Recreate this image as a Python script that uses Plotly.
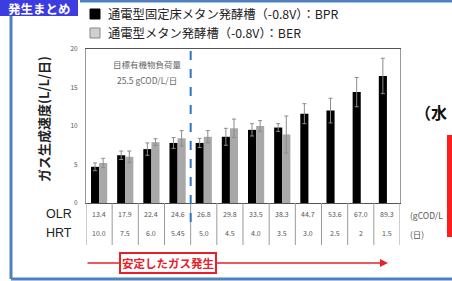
import plotly.graph_objects as go

# ---- data ----
olr = ["13.4", "17.9", "22.4", "24.6", "26.8", "29.8", "33.5", "38.3", "44.7", "53.6", "67.0", "89.3"]
hrt = ["10.0", "7.5", "6.0", "5.45", "5.0", "4.5", "4.0", "3.5", "3.0", "2.5", "2", "1.5"]
bpr = [4.7, 6.2, 7.0, 7.8, 7.8, 8.6, 9.5, 9.8, 11.6, 12.0, 14.4, 16.5]
bpr_err = [0.5, 0.55, 0.8, 0.7, 0.6, 1.1, 0.8, 0.5, 1.3, 1.6, 1.9, 2.3]
ber = [5.2, 6.0, 7.9, 8.4, 8.6, 9.7, 10.0, 8.9, None, None, None, None]
ber_err = [0.6, 0.75, 0.45, 1.0, 0.8, 1.2, 0.7, 2.4, 0, 0, 0, 0]
name_bpr = "通電型固定床メタン発酵槽（-0.8V）：BPR"
name_ber = "通電型メタン発酵槽（-0.8V）：BER"

W, H = 452, 281
L, R, T, B = 86, 400, 49, 203


def fx(px):
    return (px - L) / (R - L)


def fy(py):
    return (B - py) / (B - T)


FONT = "Noto Sans CJK JP"

fig = go.Figure()
fig.add_trace(go.Bar(x=list(range(len(olr))), y=bpr, name=name_bpr, marker=dict(color="#000000", line=dict(width=0)),
                     error_y=dict(type="data", array=bpr_err, color="#8c8c8c", thickness=1, width=2)))
fig.add_trace(go.Bar(x=list(range(len(olr))), y=ber, name=name_ber, marker=dict(color="#a8a8a8", line=dict(width=0)),
                     error_y=dict(type="data", array=ber_err, color="#8c8c8c", thickness=1, width=2)))

shapes = []
ann = []


def note(x, y, text, size, color, family=FONT, xanchor="center", xref="paper", **kw):
    d = dict(xref=xref, yref="paper", x=x, y=y, text=text, showarrow=False, xanchor=xanchor,
             yanchor="middle", font=dict(size=size, color=color, family=family))
    d.update(kw)
    ann.append(d)


# table separators (category boundaries)
for i in range(len(olr) + 1):
    shapes.append(dict(type="line", xref="x", yref="paper", x0=i - 0.5, x1=i - 0.5,
                       y0=fy(245), y1=fy(203), line=dict(color="#9a9a9a", width=1)))
# table text
for i, (o, h) in enumerate(zip(olr, hrt)):
    note(i, fy(214), o, 7, "#555", xref="x")
    note(i, fy(233), h, 7, "#555", xref="x")

# dashed target line between 4th and 5th category
shapes.append(dict(type="line", xref="x", yref="paper", x0=3.5, x1=3.5, y0=fy(222), y1=fy(49),
                   line=dict(color="#2a74d0", width=2, dash="dash")))

# slide decoration
shapes.append(dict(type="rect", xref="paper", yref="paper", x0=fx(0), x1=fx(78), y0=fy(16), y1=fy(-2),
                   fillcolor="#3c3ce0", line=dict(width=0)))
shapes.append(dict(type="line", xref="paper", yref="paper", x0=fx(11), x1=fx(11), y0=fy(279), y1=fy(16),
                   line=dict(color="#4f81bd", width=3)))
shapes.append(dict(type="line", xref="paper", yref="paper", x0=fx(11), x1=fx(453), y0=fy(279), y1=fy(279),
                   line=dict(color="#4f81bd", width=3)))
shapes.append(dict(type="line", xref="paper", yref="paper", x0=fx(80), x1=fx(453), y0=fy(1), y1=fy(1),
                   line=dict(color="#4f81bd", width=3)))
shapes.append(dict(type="rect", xref="paper", yref="paper", x0=fx(447), x1=fx(453), y0=fy(237), y1=fy(135),
                   fillcolor="#ff1c1c", line=dict(width=0)))

# legend (manual)
shapes.append(dict(type="rect", xref="paper", yref="paper", x0=fx(90), x1=fx(100), y0=fy(19), y1=fy(9),
                   fillcolor="#000", line=dict(color="#000", width=1)))
shapes.append(dict(type="rect", xref="paper", yref="paper", x0=fx(90), x1=fx(100), y0=fy(38), y1=fy(28),
                   fillcolor="#d0d0d0", line=dict(color="#888", width=1)))
note(fx(106), fy(14), name_bpr, 12.3, "#222", xanchor="left")
note(fx(106), fy(33), name_ber, 12.3, "#222", xanchor="left")

# slide heading piece
note(fx(73), fy(8), "<b>発生まとめ</b>", 12.5, "#fff", xanchor="right")

# y axis title
note(fx(43), fy(119), "<b>ガス生成速度(L/L/日)</b>", 13, "#222", textangle=-90)

# target annotation
note(fx(147), fy(64), "目標有機物負荷量", 8.5, "#666")
note(fx(147), fy(80), "25.5 gCOD/L/日", 8.5, "#666")

# table row labels and units
note(fx(74), fy(214), "OLR", 12.5, "#222", family="Liberation Sans", xanchor="right")
note(fx(74), fy(233), "HRT", 12.5, "#222", family="Liberation Sans", xanchor="right")
note(fx(408), fy(215), "(gCOD/L", 8.5, "#555", xanchor="left")
note(fx(408), fy(234), "(日)", 8.5, "#555", xanchor="left")

# right side partial heading
note(fx(413), fy(112), "<b>（水</b>", 16, "#111", xanchor="left")

# stable gas arrow
ann.append(dict(xref="paper", yref="paper", x=fx(388), y=fy(263), ax=-(388 - 86), ay=0,
                axref="pixel", ayref="pixel", text="", showarrow=True, arrowhead=2, arrowsize=1,
                arrowwidth=1.6, arrowcolor="#e8202a"))
note(fx(168), fy(263), "<b>安定したガス発生</b>", 11.5, "#e8202a",
     bgcolor="#ffffff", bordercolor="#e8202a", borderwidth=2, borderpad=1)

fig.update_layout(
    width=W, height=H,
    margin=dict(l=L, r=W - R, t=T, b=H - B),
    paper_bgcolor="#ffffff", plot_bgcolor="#ffffff",
    barmode="group", bargap=0.38, bargroupgap=0,
    showlegend=False,
    shapes=shapes, annotations=ann,
    xaxis=dict(range=[-0.5, len(olr) - 0.5], showticklabels=False, ticks="", showgrid=False, zeroline=False,
               showline=True, linecolor="#555", linewidth=1, mirror=True),
    yaxis=dict(range=[0, 20], tickvals=[0, 5, 10, 15, 20], ticks="", showgrid=False, zeroline=False,
               showline=True, linecolor="#999", linewidth=1, mirror=True,
               tickfont=dict(size=6.5, color="#555", family=FONT), ticklabelstandoff=6),
)

fig.write_html("out.html", config={"displayModeBar": False},
               post_script="document.body.style.margin='0';document.body.style.overflow='hidden';")
